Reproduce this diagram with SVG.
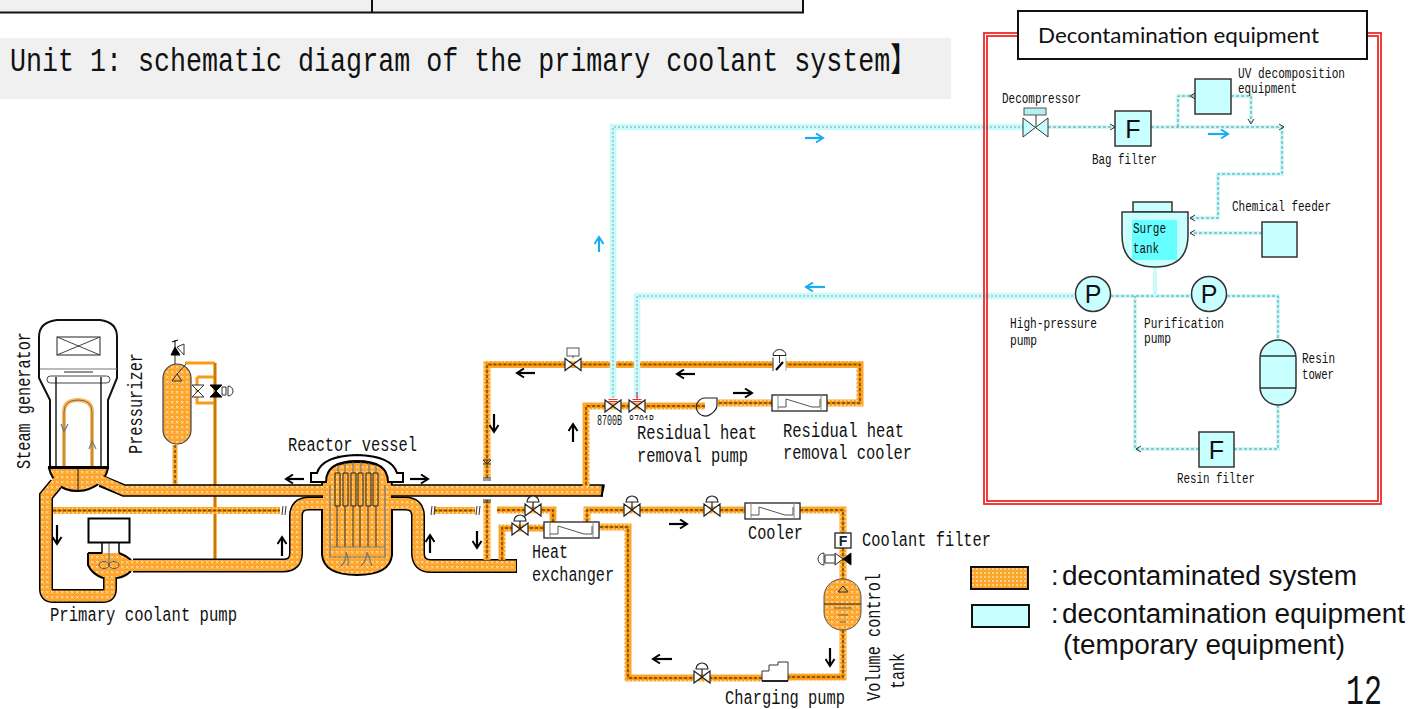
<svg xmlns="http://www.w3.org/2000/svg" width="1419" height="709" viewBox="0 0 1419 709">
<style>
text{fill:#111;font-family:"Liberation Mono","Noto Sans CJK JP",monospace;font-size:19.5px}
.s{font-size:14px}
.leg{font-family:"Liberation Sans",Arial,sans-serif;font-size:27px}
.none{fill:none}
.o{fill:url(#op);stroke:#000;stroke-width:2}
.cb{fill:#c8ffff;stroke:#333;stroke-width:1.5}
.bk{fill:none;stroke:#000;stroke-width:1.3}
.gy{fill:none;stroke:#777;stroke-width:1.2}
.cs{fill:none;stroke:#000}
.in{fill:none;stroke:url(#op)}
.t{fill:none;stroke:url(#op2);stroke-width:7}
.t2{fill:none;stroke:#f59200;stroke-width:3}
.td{fill:none;stroke:#6e4700;stroke-width:1.4;stroke-dasharray:3 2}
.b1{fill:none;stroke:#c8fbfb;stroke-width:6.5}
.b2{fill:none;stroke:#7fa6a6;stroke-width:1;stroke-dasharray:2 2}
.b3{fill:none;stroke:#c8fbfb;stroke-width:4}
.b4{fill:none;stroke:#6f8c8c;stroke-width:1;stroke-dasharray:3 2}
.ar{fill:none;stroke:#000;stroke-width:2.2;marker-end:url(#ah)}
.ab{fill:none;stroke:#16aef0;stroke-width:2.2;marker-end:url(#abh)}
.f{font-family:"Liberation Sans",Arial,sans-serif;font-size:25px;text-anchor:middle}
</style>
<defs>
<pattern id="op" width="5" height="5" patternUnits="userSpaceOnUse"><rect width="5" height="5" fill="#fda52b"/><path d="M1 1l2.500 2.500M3.500 1l-2.500 2.500" stroke="#ffe0b0" stroke-width="1"/></pattern>
<pattern id="op2" width="4" height="4" patternUnits="userSpaceOnUse"><rect width="4" height="4" fill="#fca52c"/><rect x="0" y="0" width="2" height="2" fill="#ffcf8c"/></pattern>
<marker id="ah" markerUnits="userSpaceOnUse" markerWidth="11" markerHeight="11" refX="8" refY="5.500" orient="auto"><path d="M1,1 L8,5.500 L1,10" fill="none" stroke="#000" stroke-width="2"/></marker>
<marker id="abh" markerUnits="userSpaceOnUse" markerWidth="11" markerHeight="11" refX="8" refY="5.500" orient="auto"><path d="M1,1 L8,5.500 L1,10" fill="none" stroke="#16aef0" stroke-width="2"/></marker>
<g id="vh"><path d="M-8,-6 L8,6 L8,-6 L-8,6 Z" fill="#fff" stroke="#222" stroke-width="1.200"/></g>
<g id="vd"><path d="M-8,-6 L8,6 L8,-6 L-8,6 Z" fill="#fff" stroke="#222" stroke-width="1.200"/><path d="M0,0V-8M-6,-8A6,6 0 0 1 6,-8Z" fill="#fff" stroke="#222" stroke-width="1.200"/></g>
<g id="hx"><rect x="0" y="0" width="55" height="16" fill="#fff" stroke="#222" stroke-width="1.300"/><path d="M6,0V16M49,0V16" stroke="#888" fill="none"/><path d="M6,12H14V4L40,12H48V4" stroke="#555" fill="none"/></g>
<path id="thin" d="M53,510.500H280M434,510.500H475M487,478V364.500H860V403H827M487,500V560M772,403H718M705,406H586V486M497,510H553V522M502,560V528H544M587,522V510H745M800,510H843V533M843,548V579M843,630V677H788M762,678H628V527H599"/>
<path id="bl" d="M613,398V127H1023M637,398V296H1075"/>
<path id="bt" d="M1048,127H1115M1151,127H1282V174H1218V218H1190M1178,127V96H1195M1231,96H1251V122M1262,233H1191M1111,296H1191M1227,296H1278V340M1278,405V449H1234M1199,449H1135V296"/>
</defs>

<g id="header-table">
<rect x="0" y="0" width="803" height="12.500" fill="#f0f0f0"/>
<path d="M0,12.500H803V0M372,0V12.500" fill="none" stroke="#111" stroke-width="2"/>
</g>
<g id="title">
<rect x="0" y="38" width="951" height="61" fill="#f0f0f0"/>
<text x="10" y="71" style="font-size:33px" textLength="907" lengthAdjust="spacingAndGlyphs">Unit 1: schematic diagram of the primary coolant system】</text>
</g>

<g id="steam-generator">
<path d="M50,467V400L39,378V337Q39,322 57,320H100Q117,322 117,337V378L108,400V467" fill="#fff" stroke="#111" stroke-width="2"/>
<path d="M40,369H117" stroke="#777" fill="none"/>
<rect x="57" y="337" width="43" height="18" fill="#fff" stroke="#222"/><path d="M57,337L100,355M100,337L57,355" stroke="#444" fill="none"/>
<rect x="47" y="376" width="63" height="7" rx="3.500" fill="#fff" stroke="#444"/><path d="M64,372H93" stroke="#222"/><path d="M56,377V467M101,377V467" class="bk"/>
<path d="M64,467V412Q64,400 78,400Q92,400 92,412V467" fill="none" stroke="#ffb655" stroke-width="4"/>
<path d="M64,467V412Q64,400 78,400Q92,400 92,412V467" fill="none" stroke="#555" stroke-width="0.800"/>
<path d="M61,424L64,432L68,424M89,449L92,441L96,449" class="gy"/>
<path d="M49,468H108Q106,477 101,482Q90,491 78,491Q64,491 58,484Q51,477 49,468Z" class="o"/>
<path d="M78,468V490" stroke="#111" fill="none"/>
<path d="M48,467.500H109" stroke="#000" stroke-width="3"/>
<text transform="translate(30,469) rotate(-90)" textLength="137" lengthAdjust="spacingAndGlyphs">Steam generator</text>
</g>

<g id="pressurizer">
<path d="M185,363H215M197,377H215M197,377V403H215" fill="none" stroke="#fb9a14" stroke-width="3"/>
<path d="M215,363V559" fill="none" stroke="#fb9a14" stroke-width="3.500"/>
<path d="M175,445V485" fill="none" stroke="#fca52c" stroke-width="5"/><path d="M175,445V485" class="td"/>
<path d="M215,363V559" fill="none" stroke="#6e4700" stroke-width="0.800"/>
<rect x="163" y="364" width="28" height="80" rx="14" class="o" style="stroke-width:1.200;stroke:#444"/>
<path d="M172,381L177,374L182,381ZM177,374L186,364" fill="none" stroke="#333"/>
<path d="M175,364V354" stroke="#222" fill="none"/><path d="M171,355H180L175,347ZM175,347V340M172,342L178,340" fill="#000" stroke="#000"/><path d="M177,347L184,344V355Z" fill="#fff" stroke="#333"/>
<path d="M192,385L204,397H192L204,385Z" fill="#fff" stroke="#333"/>
<path d="M210,385L222,397H210L222,385Z" fill="#000" stroke="#000"/>
<path d="M222,387H226V395H222ZM228,386A5,5 0 0 1 228,396Z" fill="#fff" stroke="#333"/>
<text transform="translate(142,454) rotate(-90)" textLength="101" lengthAdjust="spacingAndGlyphs">Pressurizer</text>
</g>

<g id="primary-coolant-pump">
<path d="M88,553H119Q125,555 132,560V571Q125,577 117,578H103Q92,574 88,565Z" fill="url(#op)"/>
<path d="M88,553H102M119,553Q125,555 131,560M131,571Q125,577 117,578M103,578Q92,574 88,565V553" class="none" stroke="#000" stroke-width="2"/>
<path d="M102,543V553M119,543V553" stroke="#000" stroke-width="1.500"/>
<path d="M109,543V565" class="gy"/>
<ellipse cx="104" cy="565" rx="5" ry="3.500" fill="none" stroke="#555"/><ellipse cx="114" cy="565" rx="5" ry="3.500" fill="none" stroke="#555"/>
<rect x="88.500" y="518.500" width="41" height="24" fill="#fff" stroke="#000" stroke-width="2"/>
<text x="50" y="621" textLength="187" lengthAdjust="spacingAndGlyphs">Primary coolant pump</text>
</g>

<g id="reactor-vessel">
<path d="M322,485V555Q324,575 357,575Q390,575 392,555V485Q392,462 357,462Q322,462 322,485Z" class="o"/>
<path d="M338,455V473M345,455V473M353,454V473M361,454V473M369,455V473M376,456V473" class="gy"/>
<path d="M311,482V473H317Q322,456 357,455Q392,456 397,473H403V482H388Q388,461 357,461Q326,461 326,482Z" fill="#fff" stroke="#000" stroke-width="2"/>
<path d="M335,473h5v33h-5zM343,473h5v33h-5zM351,473h5v33h-5zM358,473h5v33h-5zM366,473h5v33h-5zM373,473h5v33h-5z" fill="none" stroke="#222" stroke-width="1"/>
<path d="M337,506V547M345,506V547M353,506V547M360,506V547M368,506V547M376,506V547" stroke="#333" fill="none"/>
<path d="M330,485V557H385V485M330,547H385" class="gy"/>
<path d="M341,566Q347,560 346,552Q349,558 348,566M361,566Q367,560 367,552Q370,560 372,566" class="gy"/>
<text x="288" y="451" textLength="129" lengthAdjust="spacingAndGlyphs">Reactor vessel</text>
</g>

<g id="connectors">
<g id="thick-pipes">
<path class="cs" stroke-width="14" d="M56,484L46,496V589Q46,596 53,596H103Q110,596 110,589V577"/>
<path class="in" stroke-width="11" d="M60,479L46,496V589Q46,596 53,596H103Q110,596 110,589V572"/>
<path class="cs" stroke-width="14" d="M133,565.500H283Q296,565.500 296,553V516Q296,503.500 309,503.500H323"/>
<path class="in" stroke-width="11" d="M125,565.500H283Q296,565.500 296,553V516Q296,503.500 309,503.500H327"/>
<path class="cs" stroke-width="12.500" d="M101,481L124,490.500H323"/>
<path class="in" stroke-width="9.500" d="M96,478L124,490.500H327"/>
<path class="cs" stroke-width="12.500" d="M391,490.500H603"/>
<path class="in" stroke-width="9.500" d="M387,490.500H601.500"/>
<path d="M604,484.500L601.500,496.500" fill="none" stroke="#000" stroke-width="2"/>
<path class="cs" stroke-width="14" d="M391,503.500H405Q418,503.500 418,516V553Q418,566 431,566H517"/>
<path class="in" stroke-width="11" d="M387,503.500H405Q418,503.500 418,516V553Q418,566 431,566H516"/>
</g>
<g id="thin-pipes">
<use href="#thin" class="t"/><use href="#thin" class="t2"/><use href="#thin" class="td"/>
<path d="M283,506L282,515M286,506L285,515M432,506L431,515M435,506L434,515M477,506L476,515M480,506L479,515M483,478H491M483,480H491M483,500H491M483,502H491M483,460L487,464L491,460ZM483,464H491" fill="none" stroke="#333" stroke-width="1"/>
</g>
<g id="blue-pipes">
<use href="#bl" class="b1"/><use href="#bl" class="b2"/>
<use href="#bt" class="b3"/><use href="#bt" class="b4"/>
<path d="M1155,267V296" class="b3"/>
<path d="M1110,124L1115,127L1110,130M1195,93L1190,96L1195,99M1279,124L1284,127L1279,130M1248,119L1251,124L1254,119M1195,215L1190,218L1195,221M1195,230L1190,233L1195,236M1141,446L1136,449L1141,452" fill="none" stroke="#333" stroke-width="1"/>
<path d="M608.500,399.500H617.500M608.500,401.500H617.500M632.500,399.500H641.500M632.500,401.500H641.500M637,392V399" fill="none" stroke="#e8303a" stroke-width="1.200"/>
</g>
<g id="flow-arrows">
<path class="ar" d="M57,525V544"/><path class="ar" d="M282,556V537"/><path class="ar" d="M304,479H286"/><path class="ar" d="M410,479H428"/>
<path class="ar" d="M430,553V535"/><path class="ar" d="M477,531V548"/><path class="ar" d="M494,414V432"/><path class="ar" d="M573,442V424"/>
<path class="ar" d="M535,373H517"/><path class="ar" d="M695,374H677"/><path class="ar" d="M733,393H752"/><path class="ar" d="M669,524H687"/>
<path class="ar" d="M672,659H653"/><path class="ar" d="M830,648V666"/>
<path class="ab" d="M805,138H823"/><path class="ab" d="M599,252V237"/><path class="ab" d="M825,287H806"/><path class="ab" d="M1208,134H1228"/>
</g>
</g>

<g id="valves">
<use href="#vh" x="573" y="364.500"/><path d="M573,358V352" stroke="#333"/><rect x="567" y="348" width="12" height="8" fill="#fff" stroke="#555"/>
<rect x="773" y="358" width="13" height="14" fill="#fff"/>
<path d="M773,357.500V371" stroke="#333"/><path d="M786,357.500V371" stroke="#aaa"/>
<path d="M779.500,355V363" stroke="#333"/><path d="M773,355.500A6.500,6 0 0 1 786,355.500Z" fill="#fff" stroke="#222"/><path d="M776,370L783,362" stroke="#000" stroke-width="2"/>
<use href="#vh" x="613" y="406"/><use href="#vh" x="637" y="406"/>
<use href="#vd" x="533" y="510"/><use href="#vd" x="520" y="529"/><use href="#vd" x="632" y="510"/><use href="#vd" x="712" y="510"/><use href="#vd" x="702" y="677"/>
<path d="M843,559L851,553V565L835,553V565Z" fill="#fff" stroke="#222"/><path d="M843,559L851,553V565Z" fill="#000"/>
<path d="M825,555H835V563H825ZM824,553A6,6 0 0 0 824,565Z" fill="#fff" stroke="#333"/>
</g>

<g id="valve-tags">
<text x="629" y="425" class="s" textLength="25" lengthAdjust="spacingAndGlyphs">8701B</text>
<rect x="627" y="420" width="32" height="8" fill="#fff"/>
<text x="597" y="425" class="s" textLength="25" lengthAdjust="spacingAndGlyphs">8700B</text>
</g>
<g id="residual-heat-removal-pump">
<path d="M717,398H705A9,9 0 1 0 711,414Q717,410 717,405Z" fill="none" stroke="#222" stroke-width="1.200"/>
<text x="637" y="439" textLength="120" lengthAdjust="spacingAndGlyphs">Residual heat</text>
<text x="637" y="462" textLength="111" lengthAdjust="spacingAndGlyphs">removal pump</text>
</g>
<g id="residual-heat-removal-cooler">
<use href="#hx" x="772" y="395"/>
<text x="783" y="437" textLength="121" lengthAdjust="spacingAndGlyphs">Residual heat</text>
<text x="783" y="459" textLength="129" lengthAdjust="spacingAndGlyphs">removal cooler</text>
</g>
<g id="heat-exchanger">
<use href="#hx" x="544" y="522"/>
<text x="532" y="558" textLength="36" lengthAdjust="spacingAndGlyphs">Heat</text>
<text x="532" y="581" textLength="82" lengthAdjust="spacingAndGlyphs">exchanger</text>
</g>
<g id="cooler">
<use href="#hx" x="745" y="503"/>
<text x="748" y="539" textLength="55" lengthAdjust="spacingAndGlyphs">Cooler</text>
</g>
<g id="coolant-filter">
<rect x="835" y="533" width="16" height="15" fill="#fff" stroke="#222" stroke-width="1.300"/>
<text x="843" y="546" style="font-family:'Liberation Sans',sans-serif;font-size:14px;font-weight:bold;fill:#123;text-anchor:middle">F</text>
<text x="862" y="546" textLength="129" lengthAdjust="spacingAndGlyphs">Coolant filter</text>
</g>
<g id="volume-control-tank">
<rect x="824" y="579" width="37" height="51" rx="18" fill="url(#op)" stroke="#555" stroke-width="1"/>
<path d="M824,604H861" stroke="#222"/><path d="M834,608H852M838,615H848M840,622H846" stroke="#664" fill="none"/><path d="M838,592L843,586L848,592Z" fill="none" stroke="#222"/>
<text transform="translate(880,701) rotate(-90)" textLength="128" lengthAdjust="spacingAndGlyphs">Volume control</text>
<text transform="translate(904,689) rotate(-90)" textLength="36" lengthAdjust="spacingAndGlyphs">tank</text>
</g>
<g id="charging-pump">
<path d="M762,681V671H769V665H778V662H788V681Z" fill="#fff" stroke="#333"/><path d="M762,681H788" stroke="#000" stroke-width="1.500"/>
<text x="725" y="704" textLength="120" lengthAdjust="spacingAndGlyphs">Charging pump</text>
</g>

<g id="decontamination-frame">
<rect x="984" y="33" width="397" height="471" fill="none" stroke="#ee2a2a" stroke-width="1.800"/>
<rect x="987" y="36" width="391" height="465" fill="none" stroke="#ee2a2a" stroke-width="1.800"/>
<rect x="1018" y="11" width="349" height="48" fill="#fff" stroke="#111" stroke-width="2"/>
<text x="1038" y="43" style="font-family:Lato,sans-serif;font-size:21px" textLength="281" lengthAdjust="spacingAndGlyphs">Decontamination equipment</text>
</g>
<g id="decompressor">
<path d="M1023,118L1048,137V118L1023,137Z" fill="#c8ffff" stroke="#333"/><path d="M1036,115V127" stroke="#333"/><rect x="1024" y="108" width="22" height="7" fill="#b5f0f0" stroke="#555"/>
<text x="1002" y="103" class="s" textLength="79" lengthAdjust="spacingAndGlyphs">Decompressor</text>
</g>
<g id="bag-filter">
<rect x="1115" y="111" width="36" height="35" class="cb"/><text x="1133" y="138" class="f">F</text>
<text x="1092" y="164" class="s" textLength="65" lengthAdjust="spacingAndGlyphs">Bag filter</text>
</g>
<g id="uv-decomposition">
<rect x="1195" y="79" width="36" height="35" class="cb"/>
<text x="1238" y="78" class="s" textLength="107" lengthAdjust="spacingAndGlyphs">UV decomposition</text>
<text x="1238" y="93" class="s" textLength="59" lengthAdjust="spacingAndGlyphs">equipment</text>
</g>
<g id="surge-tank">
<rect x="1133" y="202" width="39" height="10" class="cb"/>
<path d="M1122,212H1188V235Q1188,267 1155,267Q1122,267 1122,235Z" class="cb"/>
<rect x="1132" y="220" width="45" height="40" fill="#66ffff"/>
<text x="1133" y="233" class="s" textLength="33" lengthAdjust="spacingAndGlyphs">Surge</text>
<text x="1133" y="253" class="s" textLength="26" lengthAdjust="spacingAndGlyphs">tank</text>
</g>
<g id="chemical-feeder">
<rect x="1262" y="222" width="35" height="35" class="cb"/>
<text x="1232" y="211" class="s" textLength="99" lengthAdjust="spacingAndGlyphs">Chemical feeder</text>
</g>
<g id="high-pressure-pump">
<circle cx="1093" cy="294" r="17.500" class="cb"/><text x="1093" y="303" class="f">P</text>
<text x="1010" y="328" class="s" textLength="87" lengthAdjust="spacingAndGlyphs">High-pressure</text>
<text x="1010" y="345" class="s" textLength="27" lengthAdjust="spacingAndGlyphs">pump</text>
</g>
<g id="purification-pump">
<circle cx="1209" cy="294" r="17.500" class="cb"/><text x="1209" y="303" class="f">P</text>
<text x="1144" y="328" class="s" textLength="80" lengthAdjust="spacingAndGlyphs">Purification</text>
<text x="1144" y="343" class="s" textLength="27" lengthAdjust="spacingAndGlyphs">pump</text>
</g>
<g id="resin-tower">
<rect x="1260" y="340" width="36" height="65" rx="18" class="cb"/><path d="M1260,356H1296M1260,388H1296" stroke="#333" stroke-width="1.500"/>
<text x="1302" y="363" class="s" textLength="33" lengthAdjust="spacingAndGlyphs">Resin</text>
<text x="1302" y="379" class="s" textLength="32" lengthAdjust="spacingAndGlyphs">tower</text>
</g>
<g id="resin-filter">
<rect x="1199" y="432" width="35" height="35" class="cb"/><text x="1216.500" y="459" class="f">F</text>
<text x="1177" y="483" class="s" textLength="78" lengthAdjust="spacingAndGlyphs">Resin filter</text>
</g>

<g id="legend">
<rect x="971" y="567" width="57" height="22" fill="url(#op2)" stroke="#111" stroke-width="2"/>
<rect x="972" y="605" width="57" height="22" fill="#c8ffff" stroke="#111" stroke-width="2"/>
<text x="1051" y="585" class="leg">:<tspan x="1062" textLength="295" lengthAdjust="spacingAndGlyphs">decontaminated system</tspan></text>
<text x="1051" y="623" class="leg">:<tspan x="1062" textLength="343" lengthAdjust="spacingAndGlyphs">decontamination equipment</tspan></text>
<text x="1063" y="654" class="leg" textLength="282" lengthAdjust="spacingAndGlyphs">(temporary equipment)</text>
<text x="1346" y="704" style="font-size:43px" textLength="36" lengthAdjust="spacingAndGlyphs">12</text>
</g>
</svg>
